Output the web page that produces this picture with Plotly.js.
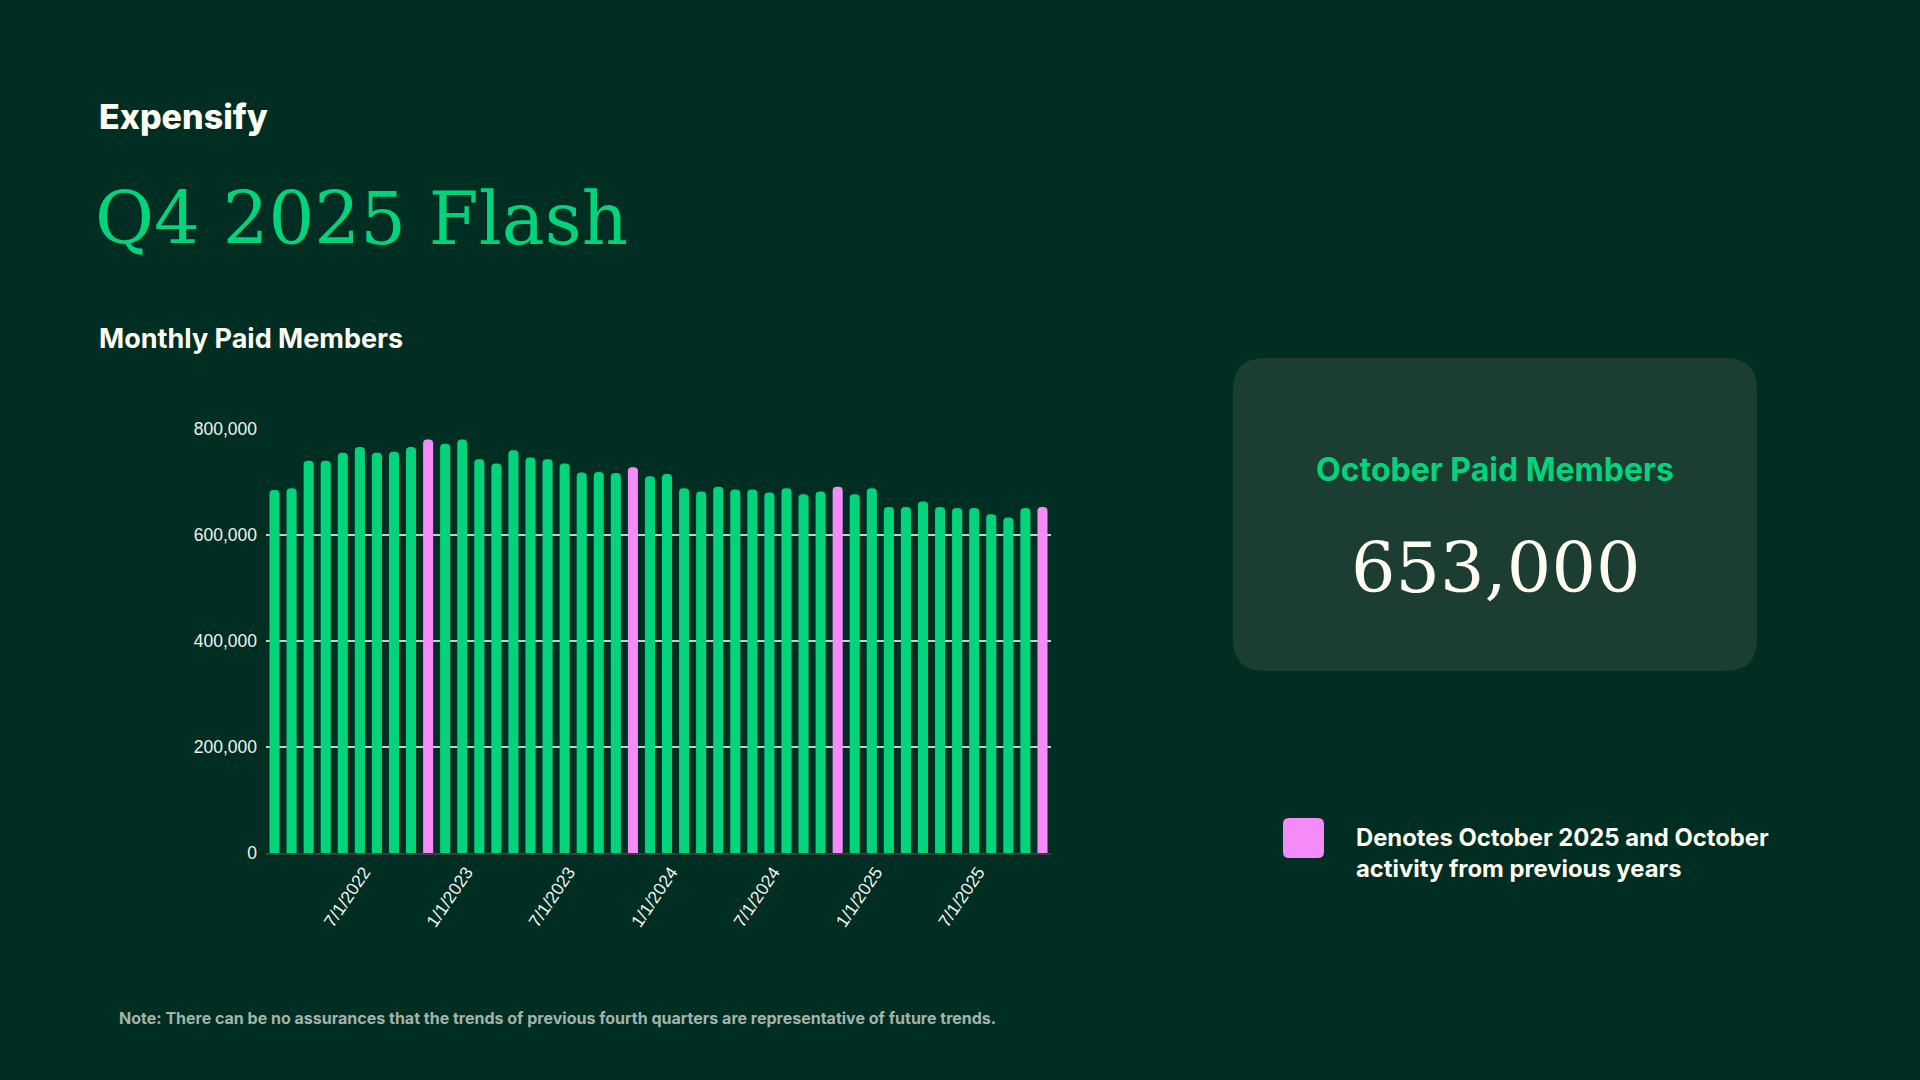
<!DOCTYPE html>
<html>
<head>
<meta charset="utf-8">
<script src="https://cdn.plot.ly/plotly-3.0.1.min.js"></script>
<style>
  html, body { margin: 0; padding: 0; background: #012E23; }
  #chart { width: 1920px; height: 1080px; }
</style>
</head>
<body>
<div id="chart"></div>
<script>
// ---- data ----
const months = [
  "1/1/2022","2/1/2022","3/1/2022","4/1/2022","5/1/2022","6/1/2022","7/1/2022","8/1/2022","9/1/2022","10/1/2022","11/1/2022","12/1/2022",
  "1/1/2023","2/1/2023","3/1/2023","4/1/2023","5/1/2023","6/1/2023","7/1/2023","8/1/2023","9/1/2023","10/1/2023","11/1/2023","12/1/2023",
  "1/1/2024","2/1/2024","3/1/2024","4/1/2024","5/1/2024","6/1/2024","7/1/2024","8/1/2024","9/1/2024","10/1/2024","11/1/2024","12/1/2024",
  "1/1/2025","2/1/2025","3/1/2025","4/1/2025","5/1/2025","6/1/2025","7/1/2025","8/1/2025","9/1/2025","10/1/2025"
];
const paidMembers = [
  685000, 688000, 740000, 740000, 755000, 766000, 755000, 757000, 766000, 780000, 772000, 780000,
  743000, 735000, 760000, 746000, 743000, 735000, 718000, 719000, 717000, 728000, 711000, 715000,
  688000, 682000, 691000, 686000, 686000, 680000, 688000, 677000, 682000, 691000, 677000, 688000,
  653000, 653000, 663000, 653000, 651000, 651000, 639000, 633000, 651000, 653000
];
const xTickLabels = ["7/1/2022","1/1/2023","7/1/2023","1/1/2024","7/1/2024","1/1/2025","7/1/2025"];
const yTickValues = [0, 200000, 400000, 600000, 800000];
const octoberValue = "653,000";

// ---- styling ----
const BG = "#012E23";
const GREEN = "#03D47C";
const PINK = "#F48BF8";
const CREAM = "#FFFCF2";
const CARD = "#1C3D31";

const M = { l: 266, r: 869, t: 429, b: 227 };
const PW = 1920 - M.l - M.r, PH = 1080 - M.t - M.b;
const X = p => (p - M.l) / PW;
const Y = p => (1080 - M.b - p) / PH;

function roundRect(x0, y0, x1, y1, r) {
  const f = (a, b) => X(a).toFixed(5) + "," + Y(b).toFixed(5);
  return "M" + f(x0 + r, y0) + " L" + f(x1 - r, y0) + " Q" + f(x1, y0) + " " + f(x1, y0 + r) +
         " L" + f(x1, y1 - r) + " Q" + f(x1, y1) + " " + f(x1 - r, y1) +
         " L" + f(x0 + r, y1) + " Q" + f(x0, y1) + " " + f(x0, y1 - r) +
         " L" + f(x0, y0 + r) + " Q" + f(x0, y0) + " " + f(x0 + r, y0) + " Z";
}

const barColors = months.map(m => m.startsWith("10/") ? PINK : GREEN);

const trace = {
  type: "bar",
  x: months,
  y: paidMembers,
  marker: { color: barColors, cornerradius: 4 },
  hoverinfo: "skip"
};

function ann(text, px, py, opts) {
  return Object.assign({
    text: text, xref: "paper", yref: "paper", x: X(px), y: Y(py),
    showarrow: false, xanchor: "left", yanchor: "middle", align: "left"
  }, opts);
}

const layout = {
  width: 1920, height: 1080,
  margin: M,
  paper_bgcolor: BG, plot_bgcolor: BG,
  showlegend: false,
  bargap: 0.41,
  xaxis: {
    type: "category",
    tickmode: "array",
    tickvals: xTickLabels,
    ticktext: xTickLabels,
    tickangle: -56,
    tickfont: { family: "Liberation Sans", size: 17.5, color: "#F2F2EE" },
    showgrid: false,
    showline: true, linecolor: "#3A3F3C", linewidth: 2,
    ticks: "", ticklabelstandoff: 0, ticklabelshift: -13,
    range: [-0.5, months.length - 0.5],
    fixedrange: true
  },
  yaxis: {
    range: [0, 800000],
    tickmode: "array",
    tickvals: yTickValues,
    tickformat: ",d",
    tickfont: { family: "Liberation Sans", size: 17.5, color: "#F2F2EE" },
    showgrid: true, gridcolor: "#C9CCCA", gridwidth: 1.3,
    zeroline: false, showline: false, ticks: "",
    ticklabelstandoff: 8,
    fixedrange: true
  },
  shapes: [
    { type: "path", xref: "paper", yref: "paper", path: roundRect(1233, 358, 1757, 671, 32),
      fillcolor: CARD, line: { width: 0 }, layer: "below" },
    { type: "path", xref: "paper", yref: "paper", path: roundRect(1283, 818, 1324, 858, 6),
      fillcolor: PINK, line: { width: 0 } }
  ],
  annotations: [
    ann("Expensify", 97, 116, { font: { family: "Inter", size: 34, color: CREAM, weight: 800 } }),
    ann("Q4 2025 Flash", 93, 219, { font: { family: "DejaVu Serif", size: 72, color: GREEN } }),
    ann("Monthly Paid Members", 97, 338, { font: { family: "Inter", size: 27, color: CREAM, weight: 700 } }),
    ann("October Paid Members", 1495, 469, { xanchor: "center", align: "center",
      font: { family: "Inter", size: 32, color: GREEN, weight: 700 } }),
    ann(octoberValue, 1495, 568, { xanchor: "center", align: "center",
      font: { family: "DejaVu Serif", size: 70, color: CREAM } }),
    ann("Denotes October 2025 and October<br>activity from previous years", 1354, 853,
      { font: { family: "Inter", size: 23.8, color: CREAM, weight: 700 } }),
    ann("Note: There can be no assurances that the trends of previous fourth quarters are representative of future trends.",
      117, 1018, { font: { family: "Inter", size: 16, color: "#A3B3AB", weight: 700 } })
  ]
};

Plotly.newPlot("chart", [trace], layout, { staticPlot: true, displayModeBar: false });
</script>
</body>
</html>
